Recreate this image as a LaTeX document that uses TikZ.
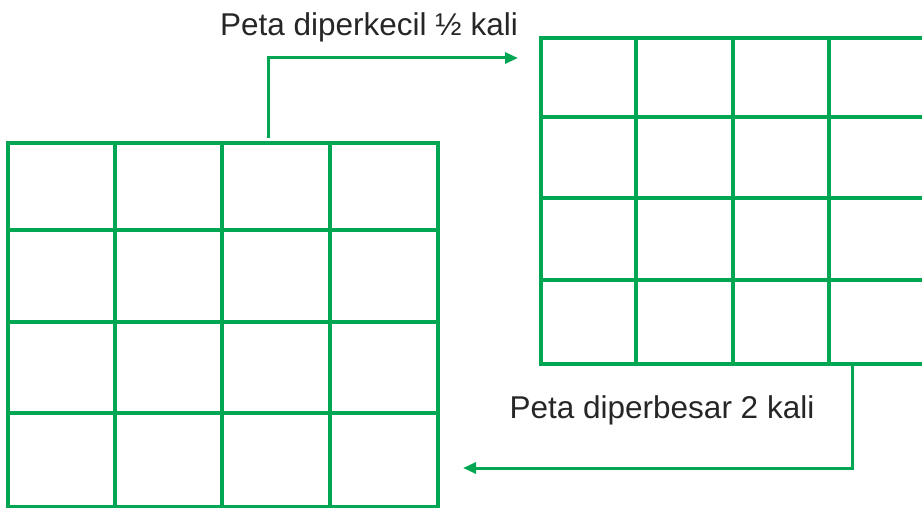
\documentclass[tikz,border=0pt]{standalone}
\usepackage{fontspec}
\setmainfont{Liberation Sans}
\usepackage{xcolor}
\definecolor{petagreen}{RGB}{0,166,81}
\usetikzlibrary{arrows.meta}

\begin{document}
\begin{tikzpicture}[x=1pt,y=-1pt,
  gridline/.style={draw=petagreen,line width=3.1pt},
  arrowline/.style={draw=petagreen,line width=3pt,-{Triangle[length=13pt,width=11pt]}},
  caption/.style={font=\fontsize{31.5}{36}\selectfont,text=black!85,inner sep=0pt}]
  \useasboundingbox (0,0) rectangle (922,508);
  \begin{scope}
    \clip (0,0) rectangle (922,508);
    % big map
    \draw[gridline] (8,143) rectangle (438,507);
    \foreach \x in {115,222,330} \draw[gridline] (\x,143) -- (\x,507);
    \foreach \y in {230,322,413} \draw[gridline] (8,\y) -- (438,\y);
    % small map
    \draw[gridline] (541,38) rectangle (926,364);
    \foreach \x in {636,733,829} \draw[gridline] (\x,38) -- (\x,364);
    \foreach \y in {117,198,280} \draw[gridline] (541,\y) -- (926,\y);
  \end{scope}
  \coordinate (bigtop) at (268,138);
  \coordinate (smallin) at (518,58);
  \coordinate (smallbot) at (852,363);
  \coordinate (bigin) at (463,468);
  \draw[arrowline] (bigtop) |- (smallin);
  \draw[arrowline] (smallbot) |- (bigin);
  \node[caption] (kecil) at (369,27) {Peta diperkecil ½ kali};
  \node[caption] (besar) at (662,410) {Peta diperbesar 2 kali};
\end{tikzpicture}
\end{document}
